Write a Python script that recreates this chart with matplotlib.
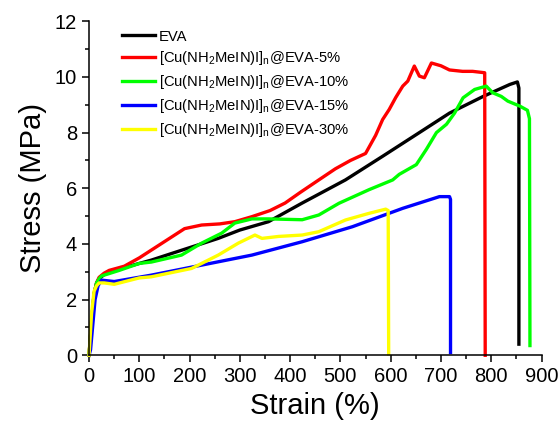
import matplotlib
matplotlib.use("Agg")
import matplotlib.pyplot as plt
from matplotlib.ticker import MultipleLocator

plt.rcParams['font.family'] = ['Liberation Sans', 'DejaVu Sans']
plt.rcParams['mathtext.fontset'] = 'custom'
plt.rcParams['mathtext.rm'] = 'Liberation Sans'
plt.rcParams['mathtext.it'] = 'Liberation Sans:italic'

# EVA
eva_x = [0, 5, 10, 15, 20, 30, 40, 70, 124, 180, 257, 300, 357, 424, 510, 584, 651, 717, 784, 837, 852, 855, 855]
eva_y = [0, 1.2, 2.2, 2.6, 2.75, 2.9, 3.0, 3.15, 3.42, 3.75, 4.2, 4.5, 4.8, 5.47, 6.3, 7.15, 7.93, 8.7, 9.3, 9.73, 9.82, 9.6, 0.4]

# 5 %
red_x = [0, 5, 10, 15, 20, 30, 40, 70, 100, 124, 160, 190, 224, 260, 290, 324, 360, 390, 420, 457, 490, 520, 550,
         570, 584, 597, 610, 624, 634, 647, 657, 667, 681, 700, 717, 743, 763, 787, 788]
red_y = [0, 1.2, 2.2, 2.6, 2.8, 2.95, 3.05, 3.2, 3.5, 3.78, 4.2, 4.55, 4.68, 4.72, 4.8, 4.98, 5.2, 5.47, 5.85, 6.3,
         6.7, 7.0, 7.25, 7.9, 8.47, 8.83, 9.26, 9.67, 9.85, 10.39, 10.03, 9.97, 10.5, 10.4, 10.25, 10.2, 10.2,
         10.15, 0]

# 10 %
green_x = [0, 5, 10, 15, 20, 25, 60, 100, 124, 184, 224, 264, 290, 324, 357, 424, 457, 497, 557, 604, 617, 651,
           671, 691, 711, 727, 744, 767, 790, 803, 820, 833, 857, 872, 876, 877]
green_y = [0, 1.2, 2.2, 2.6, 2.75, 2.85, 3.05, 3.3, 3.35, 3.6, 4.03, 4.39, 4.75, 4.9, 4.9, 4.87, 5.04, 5.46, 5.95,
           6.3, 6.5, 6.85, 7.4, 8.0, 8.3, 8.7, 9.25, 9.55, 9.67, 9.43, 9.3, 9.13, 8.95, 8.8, 8.5, 0.35]

# 15 %
blue_x = [0, 3, 8, 12, 18, 25, 50, 124, 224, 324, 424, 524, 624, 697, 717, 719, 719]
blue_y = [0, 0.2, 1.2, 2.0, 2.5, 2.7, 2.65, 2.88, 3.24, 3.6, 4.08, 4.62, 5.28, 5.7, 5.7, 5.6, 0.1]

# 30 %
yellow_x = [0, 5, 10, 15, 20, 30, 50, 100, 124, 204, 257, 297, 330, 344, 377, 424, 457, 510, 557, 590, 595, 596]
yellow_y = [0, 1.5, 2.3, 2.5, 2.6, 2.6, 2.55, 2.78, 2.82, 3.12, 3.6, 4.03, 4.32, 4.2, 4.27, 4.32, 4.44, 4.86,
            5.1, 5.25, 5.2, 0.05]

labels = ['EVA',
          r'[Cu(NH$_\mathregular{2}$MeIN)I]$_\mathregular{n}$@EVA-5%',
          r'[Cu(NH$_\mathregular{2}$MeIN)I]$_\mathregular{n}$@EVA-10%',
          r'[Cu(NH$_\mathregular{2}$MeIN)I]$_\mathregular{n}$@EVA-15%',
          r'[Cu(NH$_\mathregular{2}$MeIN)I]$_\mathregular{n}$@EVA-30%']
colors = ['black', '#ff0000', '#00ff00', '#0000ff', '#ffff00']

fig = plt.figure(figsize=(5.6, 4.25), dpi=100)
ax = fig.add_axes([0.159, 0.164, 0.808, 0.786])

series = [(eva_x, eva_y), (red_x, red_y), (green_x, green_y), (blue_x, blue_y), (yellow_x, yellow_y)]
for (xs, ys), lab, c in zip(series, labels, colors):
    ax.plot(xs, ys, color=c, lw=2.4, label=lab, clip_on=False, solid_joinstyle='round')

ax.set_xlim(0, 900)
ax.set_ylim(0, 12)
ax.xaxis.set_major_locator(MultipleLocator(100))
ax.xaxis.set_minor_locator(MultipleLocator(50))
ax.yaxis.set_major_locator(MultipleLocator(2))
ax.yaxis.set_minor_locator(MultipleLocator(1))
ax.spines['top'].set_visible(False)
ax.spines['right'].set_visible(False)
for s in ['left', 'bottom']:
    ax.spines[s].set_linewidth(1.1)
ax.tick_params(which='major', direction='out', length=5, width=1.1, labelsize=14.5)
ax.tick_params(which='minor', direction='out', length=3, width=1.1)

ax.set_xlabel('Strain (%)', fontsize=21, labelpad=4)
ax.set_ylabel('Stress (MPa)', fontsize=21, labelpad=6)

ax.legend(loc='upper left', bbox_to_anchor=(0.072, 0.975), frameon=False, fontsize=10.6,
          handlelength=2.25, handletextpad=0.3, labelspacing=0.4, borderaxespad=0, borderpad=0)

fig.savefig('out.png', dpi=100)
